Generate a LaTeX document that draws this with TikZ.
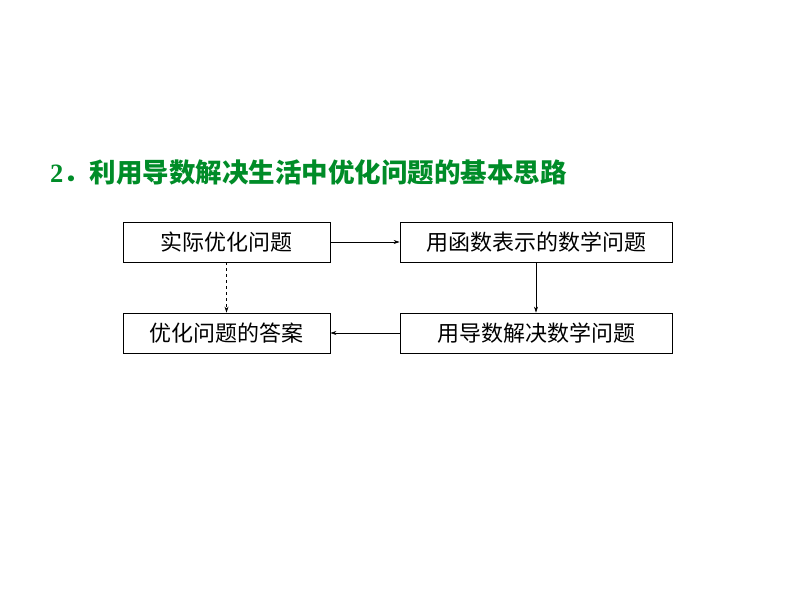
\documentclass[tikz,border=0pt]{standalone}
\usepackage{fontspec}
\newfontfamily\cjk{Noto Sans CJK SC}
\setmainfont{Liberation Serif}
\usetikzlibrary{arrows.meta}
\definecolor{tgreen}{RGB}{0,140,40}
\begin{document}
\begin{tikzpicture}[x=1pt,y=-1pt,
  box/.style={draw,line width=0.9pt,minimum height=40pt,inner sep=0pt,font=\cjk\fontsize{22}{22}\selectfont},
  arr/.style={-{Stealth[length=6pt,width=4pt]},line width=0.6pt}]
\useasboundingbox (0,0) rectangle (794,596);
\node[anchor=west,text=tgreen,font=\bfseries\fontsize{26.5}{26.5}\selectfont,inner sep=0pt] (title) at (50,172) {2{\cjk\bfseries ．利用导数解决生活中优化问题的基本思路}};
\node[box,minimum width=207pt] (a) at (226.5,242) {实际优化问题};
\node[box,minimum width=272pt] (b) at (536,242) {用函数表示的数学问题};
\node[box,minimum width=207pt] (c) at (226.5,333) {优化问题的答案};
\node[box,minimum width=272pt] (d) at (536,333) {用导数解决数学问题};
\draw[arr] (a) -- (b);
\draw[arr] (b) -- (d);
\draw[arr] (d) -- (c);
\draw[arr,dashed] (a) -- (c);
\end{tikzpicture}
\end{document}
